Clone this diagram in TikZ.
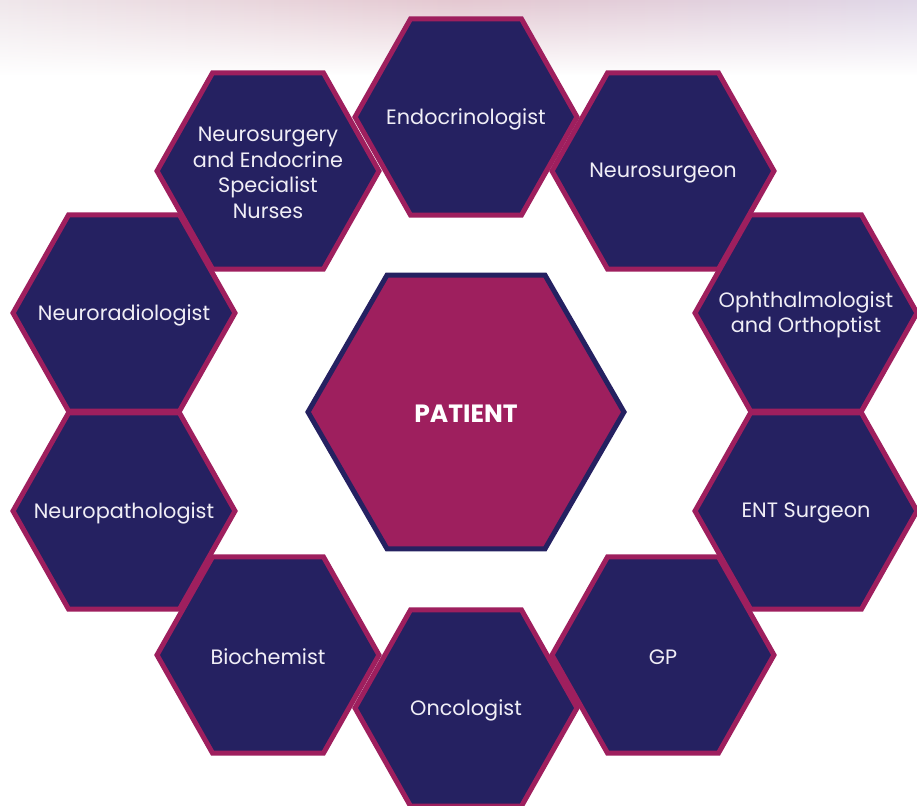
\documentclass[tikz,border=0pt]{standalone}
\usepackage{fontspec}
\setmainfont{Poppins}
\usetikzlibrary{shapes.geometric,fadings}
\definecolor{navy}{HTML}{252161}
\definecolor{magenta}{HTML}{9E1F5E}
\definecolor{txt}{HTML}{F0EEF6}
\definecolor{bgL}{HTML}{EFE7EB}
\definecolor{bgM}{HTML}{E4C8D1}
\definecolor{bgR}{HTML}{E1D8E8}
\begin{document}
\begin{tikzpicture}[x=1pt,y=-1pt,
  hexbox/.style={regular polygon, regular polygon sides=6, minimum size=222pt,
    inner sep=0pt, outer sep=0pt, fill=navy, draw=magenta, line width=5pt,
    transform shape, yscale=1.02},
  hexlabel/.style={text=txt, font=\fontsize{20.8}{25.5}\selectfont, align=center,
    inner sep=0pt, yshift=-2pt},
  patientbox/.style={regular polygon, regular polygon sides=6, minimum size=316pt,
    inner sep=0pt, outer sep=0pt, fill=magenta, draw=navy, line width=5pt},
  patientlabel/.style={text=white, font=\fontsize{25}{28}\selectfont\bfseries,
    inner sep=0pt, yshift=-2pt}]
\useasboundingbox (0,0) rectangle (917,805);
\clip (0,0) rectangle (917,805);
% top background
\shade[left color=bgL, right color=bgR, middle color=bgM] (0,0) rectangle (917,75);
\fill[white, path fading=north] (0,0) rectangle (917,75);
% hexagons
\node[hexbox] (nurse) at (268,171) {};
\node[hexbox] (neurosurgeon) at (663,171) {};
\node[hexbox] (endo) at (466,117) {};
\node[hexbox] (radio) at (124,313) {};
\node[hexbox] (ophth) at (806,313) {};
\node[hexbox] (patho) at (124,511) {};
\node[hexbox] (ent) at (806,511) {};
\node[hexbox] (biochem) at (268,655) {};
\node[hexbox] (gp) at (663,655) {};
\node[hexbox] (onco) at (466,708) {};
\node[patientbox] (patient) at (466,412) {};
% labels
\node[hexlabel] (nurse-t) at (nurse) {Neurosurgery\\and Endocrine\\Specialist\\Nurses};
\node[hexlabel] (neurosurgeon-t) at (neurosurgeon) {Neurosurgeon};
\node[hexlabel] (endo-t) at (endo) {Endocrinologist};
\node[hexlabel] (radio-t) at (radio) {Neuroradiologist};
\node[hexlabel] (ophth-t) at (ophth) {Ophthalmologist\\and Orthoptist};
\node[hexlabel] (patho-t) at (patho) {Neuropathologist};
\node[hexlabel] (ent-t) at (ent) {ENT Surgeon};
\node[hexlabel] (biochem-t) at (biochem) {Biochemist};
\node[hexlabel] (gp-t) at (gp) {GP};
\node[hexlabel] (onco-t) at (onco) {Oncologist};
\node[patientlabel] (patient-t) at (patient) {PATIENT};
\end{tikzpicture}
\end{document}
